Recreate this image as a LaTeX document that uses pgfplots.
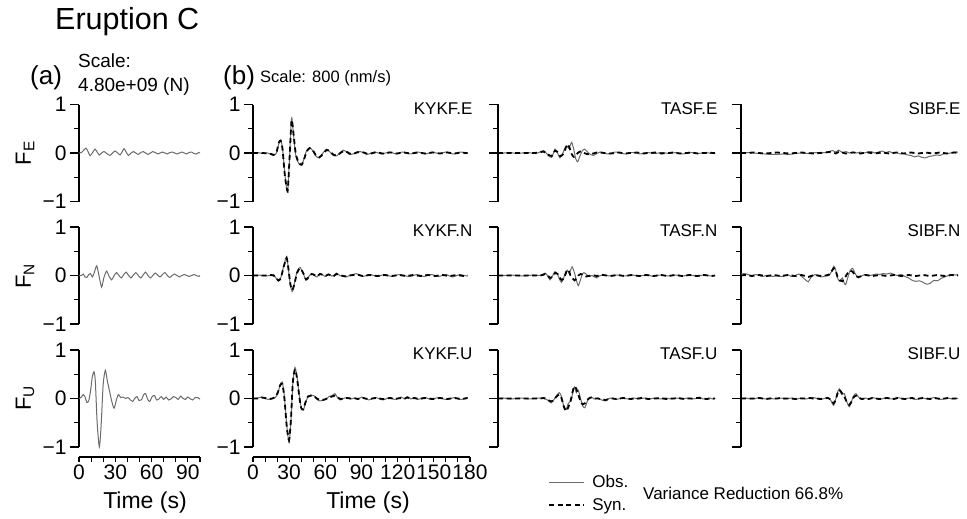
\documentclass[border=0pt]{standalone}
\usepackage{fontspec}
\setmainfont{Liberation Sans}
\usepackage{pgfplots}
\pgfplotsset{compat=1.18}
\definecolor{obsgray}{gray}{0.42}
\newcommand{\fs}[1]{\fontsize{#1}{#1}\selectfont}

\pgfplotsset{
  wave/.style={scale only axis, height=97pt, ymin=-1, ymax=1,
    axis y line=left, axis x line=none, axis line style={-, line width=1.3pt},
    ytick={-1,0,1}, yticklabels={−1,0,1}, minor ytick={-0.5,0.5},
    tick align=outside, major tick length=9pt, minor tick length=5pt,
    tick style={black, line width=1.1pt}, xtick=\empty,
    ticklabel style={font=\fs{21}}, /pgf/number format/assume math mode=true,
    clip=false, anchor=south west},
  force/.style={wave, width=121pt, xmin=0, xmax=100},
  stn/.style={wave, width=217pt, xmin=0, xmax=180},
  nolab/.style={yticklabels={}},
  % detached time axis drawn below a column
  timebar/.style={scale only axis, height=1pt, ymin=0, ymax=1, xmin=0,
    axis y line=none, axis x line=bottom, axis line style={-, line width=1.3pt},
    ytick=\empty, tick align=outside, minor tick length=5pt,
    tick style={black, line width=1.1pt}, major x tick style={draw=none},
    minor xtick={0,10,...,#1}, xmax=#1,
    xticklabel style={font=\fs{21}}, /pgf/number format/assume math mode=true,
    anchor=south west, clip=false},
  obs/.style={obsgray, line width=1pt, smooth, tension=0.4, mark=none},
  syn/.style={black, line width=1.8pt, dash pattern=on 5pt off 3.5pt, smooth, tension=0.4, mark=none},
}
\newcommand{\stlabel}[1]{\node[anchor=base east, font=\fs{17}] at ([xshift=6pt]rel axis cs:1,0.897) {#1};}

\begin{document}
\begin{tikzpicture}
\path[use as bounding box] (0pt,0pt) rectangle (967pt,-519pt);

% headings
\node[anchor=base west, font=\fs{30.5}, inner sep=0pt] at (55pt,-29.5pt) {Eruption C};
\node[anchor=base west, font=\fs{26}, inner sep=0pt] at (30pt,-84.5pt) {(a)};
\node[anchor=base west, font=\fs{19}, inner sep=0pt] at (78pt,-68pt) {Scale:};
\node[anchor=base west, font=\fs{19}, inner sep=0pt] at (78pt,-92pt) {4.80e+09 (N)};
\node[anchor=base west, font=\fs{26}, inner sep=0pt] at (223pt,-84.5pt) {(b)};
\node[anchor=base west, font=\fs{16.5}, inner sep=0pt] at (260pt,-82pt) {Scale: 800 (nm/s)};

% component labels
\node[rotate=90, font=\fs{22}] at (25pt,-153pt) {F\textsubscript{E}};
\node[rotate=90, font=\fs{22}] at (25pt,-276pt) {F\textsubscript{N}};
\node[rotate=90, font=\fs{22}] at (25pt,-398pt) {F\textsubscript{U}};

% time axis titles
\node[anchor=base, font=\fs{23}, inner sep=0pt] at (145pt,-508pt) {Time (s)};
\node[anchor=base, font=\fs{23}, inner sep=0pt] at (368pt,-508pt) {Time (s)};

\node[anchor=west, font=\fs{17}, inner sep=0pt] at (643pt,-493pt) {Variance Reduction 66.8\%};

% time axes
\begin{axis}[timebar=100, width=121pt, at={(79pt,-457pt)}, xtick={0,30,60,90}]
\end{axis}
\begin{axis}[timebar=180, width=217pt, at={(253pt,-457pt)}, xtick={0,30,...,180}]
\end{axis}

% ---------------- (a) single force ----------------
\begin{axis}[force, at={(79pt,-201.5pt)}]
\addplot[obs] table[row sep=\\]{t v\\
0 0\\ 2 0.01\\ 4 0.06\\ 5.8 0.1\\ 7.5 0.03\\ 9.1 -0.055\\ 11 0.0\\ 13.2 0.08\\ 15 0.02\\ 16.8 -0.04\\
18.7 0.0\\ 20.7 0.03\\ 23 -0.01\\ 25.6 -0.05\\ 27.8 0.0\\ 29.8 0.04\\ 32 0.0\\ 34 -0.04\\ 35.8 0.03\\ 37.2 0.09\\
39 0.02\\ 40.8 -0.05\\ 43 0.0\\ 45 0.03\\ 47 0.0\\ 49 -0.03\\ 51 0.01\\ 53 0.03\\ 55 0.0\\ 57 -0.03\\
59 0.0\\ 61 0.03\\ 63 0.01\\ 65 -0.02\\ 67 0.0\\ 69 0.02\\ 71 0.0\\ 73 -0.02\\ 75 0.01\\ 77 0.02\\
79 0.0\\ 81 -0.02\\ 83 0.0\\ 85 0.02\\ 87 0.0\\ 89 -0.02\\ 91 0.01\\ 93 0.02\\ 95 -0.01\\ 97 -0.02\\ 99 0.01\\ 100 0.0\\
};
\end{axis}

\begin{axis}[force, at={(79pt,-324pt)}]
\addplot[obs] table[row sep=\\]{t v\\
0 0\\ 2 0.0\\ 3.5 0.03\\ 5 -0.03\\ 6.5 -0.04\\ 8 0.02\\ 9.5 0.04\\ 11 -0.03\\ 12.5 0.05\\ 14.6 0.2\\
16.5 0.0\\ 18.7 -0.24\\ 20.5 -0.05\\ 22.8 0.09\\ 25 -0.02\\ 27 -0.09\\ 29 0.0\\ 31 0.06\\ 33 0.0\\ 35 -0.05\\
37 0.02\\ 39 0.07\\ 41 0.0\\ 43 -0.05\\ 45 0.01\\ 47 0.06\\ 49 0.0\\ 51 -0.05\\ 53 0.01\\ 55 0.07\\
57 0.0\\ 59 -0.05\\ 61 0.0\\ 63 0.05\\ 65 0.01\\ 67 -0.03\\ 69 0.02\\ 71 0.06\\ 73 0.0\\ 75 -0.04\\
77 0.0\\ 79 0.03\\ 81 0.0\\ 83 -0.03\\ 85 0.0\\ 87 0.02\\ 89 0.0\\ 91 -0.02\\ 93 0.0\\ 95 0.02\\ 97 0.0\\ 99 -0.02\\ 100 0.0\\
};
\end{axis}

\begin{axis}[force, at={(79pt,-447pt)}]
\addplot[obs] table[row sep=\\]{t v\\
0 0\\ 2 0.03\\ 3.5 0.08\\ 5 0.03\\ 6.5 -0.08\\ 8 -0.05\\ 9.5 0.15\\ 11 0.45\\ 12.4 0.55\\ 13.5 0.35\\
15 -0.5\\ 16.8 -1.0\\ 18.3 -0.55\\ 20 0.3\\ 21.8 0.58\\ 23.5 0.35\\ 25 0.18\\ 27 -0.05\\ 29 -0.2\\ 31 -0.02\\
32.5 0.08\\ 34.5 0.02\\ 36.5 0.03\\ 38.5 0.0\\ 40.5 0.02\\ 42.5 -0.03\\ 44.5 -0.06\\ 46 0.0\\ 48 0.04\\ 49.5 -0.04\\
51.5 -0.03\\ 53.5 0.08\\ 55 0.1\\ 57 -0.03\\ 58.5 -0.06\\ 60.5 0.04\\ 62.5 0.06\\ 64 -0.03\\ 66 -0.01\\ 68 0.04\\
70 -0.02\\ 72 0.03\\ 74 -0.03\\ 76 -0.01\\ 78 0.04\\ 80 0.02\\ 82 -0.02\\ 84 0.05\\ 86 0.0\\ 88 -0.02\\
90 0.03\\ 92 -0.01\\ 94 -0.03\\ 96 0.02\\ 98 0.02\\ 100 -0.01\\
};
\end{axis}

% ---------------- (b) KYKF ----------------
\begin{axis}[stn, at={(253pt,-201.5pt)}]
\addplot[obs] table[row sep=\\]{t v\\
0 0\\ 4 0.01\\ 8 -0.01\\ 12 0.0\\ 15 -0.03\\ 17 -0.05\\ 19.5 0.0\\ 21.5 0.2\\ 23 0.27\\ 24.5 0.1\\
26.5 -0.45\\ 28.7 -0.81\\ 30.3 -0.1\\ 32 0.72\\ 33.5 0.4\\ 35.5 -0.05\\ 38 -0.22\\ 40.4 -0.25\\ 42.5 -0.1\\ 44.5 0.05\\
47 0.11\\ 49.5 0.05\\ 52 -0.06\\ 55 -0.1\\ 58 0.0\\ 61 0.08\\ 63.5 0.03\\ 66.5 -0.05\\ 69.4 -0.06\\ 72 0.0\\
75 0.06\\ 77.5 0.02\\ 80 -0.03\\ 83 -0.02\\ 86 0.02\\ 89 0.03\\ 92 0.0\\ 95 -0.03\\ 98 0.0\\ 101 0.02\\
104 0.0\\ 107 -0.02\\ 110 0.0\\ 113 0.02\\ 116 0.0\\ 119 -0.02\\ 122 0.01\\ 125 0.02\\ 128 -0.01\\ 131 -0.02\\
134 0.01\\ 137 0.02\\ 140 0.0\\ 143 -0.02\\ 146 0.0\\ 149 0.02\\ 152 0.0\\ 155 -0.01\\ 158 0.01\\ 161 0.02\\
164 -0.01\\ 167 -0.02\\ 170 0.01\\ 173 0.02\\ 176 0.0\\ 178 -0.01\\
};
\addplot[syn] table[row sep=\\]{t v\\
0 0\\ 4 0.0\\ 8 0.0\\ 12 -0.01\\ 15 -0.02\\ 17 -0.04\\ 19.5 0.02\\ 21.5 0.22\\ 23 0.25\\ 24.5 0.08\\
26.5 -0.48\\ 28.7 -0.78\\ 30.3 -0.12\\ 32 0.68\\ 33.5 0.42\\ 35.5 -0.02\\ 38 -0.2\\ 40.4 -0.24\\ 42.5 -0.12\\ 44.5 0.03\\
47 0.1\\ 49.5 0.06\\ 52 -0.04\\ 55 -0.09\\ 58 -0.02\\ 61 0.06\\ 63.5 0.04\\ 66.5 -0.03\\ 69.4 -0.05\\ 72 -0.01\\
75 0.04\\ 77.5 0.03\\ 80 -0.01\\ 83 -0.02\\ 86 0.01\\ 89 0.02\\ 92 0.01\\ 95 -0.02\\ 98 -0.01\\ 101 0.01\\
104 0.01\\ 107 -0.01\\ 110 -0.01\\ 113 0.01\\ 116 0.01\\ 119 -0.01\\ 122 0.0\\ 125 0.01\\ 128 0.0\\ 131 -0.01\\
134 0.0\\ 137 0.01\\ 140 0.0\\ 143 -0.01\\ 146 0.0\\ 149 0.01\\ 152 0.0\\ 155 -0.01\\ 158 0.0\\ 161 0.01\\
164 0.0\\ 167 -0.01\\ 170 0.0\\ 173 0.01\\ 176 0.0\\ 178 0.0\\
};
\stlabel{KYKF.E}
\end{axis}

\begin{axis}[stn, at={(253pt,-324pt)}]
\addplot[obs] table[row sep=\\]{t v\\
0 0\\ 5 0.01\\ 10 -0.01\\ 14 0.0\\ 17 0.02\\ 19 -0.05\\ 21 -0.12\\ 23 -0.05\\ 25.5 0.2\\ 27.9 0.39\\
29.5 0.1\\ 31 -0.2\\ 32.6 -0.33\\ 34.5 -0.15\\ 36.5 0.08\\ 39 0.17\\ 41.5 0.05\\ 44 -0.1\\ 46 -0.03\\ 48.6 0.04\\
51 0.0\\ 53 -0.03\\ 55.5 0.04\\ 58 0.01\\ 60 -0.02\\ 62.4 0.03\\ 65 -0.01\\ 67 0.0\\ 69.2 0.05\\ 72 0.0\\
75 -0.02\\ 77.5 -0.03\\ 80 0.0\\ 83 0.02\\ 85.8 0.04\\ 88 0.01\\ 91 -0.02\\ 94 0.0\\ 97 0.02\\ 100 0.0\\
103 -0.02\\ 106 0.0\\ 109 0.02\\ 112 0.0\\ 115 -0.02\\ 118 0.0\\ 121 0.02\\ 124 0.01\\ 127 -0.01\\ 130 -0.02\\
133 0.0\\ 136 0.02\\ 139 0.0\\ 142 -0.02\\ 145 0.0\\ 148 0.02\\ 151 0.0\\ 154 -0.02\\ 157 0.0\\ 160 0.02\\
163 -0.01\\ 166 -0.03\\ 169 0.0\\ 172 0.02\\ 175 0.0\\ 178 -0.01\\
};
\addplot[syn] table[row sep=\\]{t v\\
0 0\\ 5 0.0\\ 10 0.0\\ 14 0.01\\ 17 0.0\\ 19 -0.04\\ 21 -0.1\\ 23 -0.06\\ 25.5 0.18\\ 27.9 0.36\\
29.5 0.12\\ 31 -0.18\\ 32.6 -0.3\\ 34.5 -0.16\\ 36.5 0.05\\ 39 0.15\\ 41.5 0.06\\ 44 -0.08\\ 46 -0.04\\ 48.6 0.03\\
51 0.01\\ 53 -0.02\\ 55.5 0.03\\ 58 0.01\\ 60 -0.01\\ 62.4 0.02\\ 65 0.0\\ 67 -0.01\\ 69.2 0.03\\ 72 0.01\\
75 -0.01\\ 77.5 -0.02\\ 80 0.0\\ 83 0.01\\ 85.8 0.02\\ 88 0.01\\ 91 -0.01\\ 94 0.0\\ 97 0.01\\ 100 0.0\\
103 -0.01\\ 106 0.0\\ 109 0.01\\ 112 0.0\\ 115 -0.01\\ 118 0.0\\ 121 0.01\\ 124 0.0\\ 127 -0.01\\ 130 0.0\\
133 0.01\\ 136 0.0\\ 139 -0.01\\ 142 0.0\\ 145 0.01\\ 148 0.0\\ 151 -0.01\\ 154 0.0\\ 157 0.01\\ 160 0.0\\
163 -0.01\\ 166 0.0\\ 169 0.01\\ 172 0.0\\ 175 -0.01\\ 178 0.0\\
};
\stlabel{KYKF.N}
\end{axis}

\begin{axis}[stn, at={(253pt,-447pt)}]
\addplot[obs] table[row sep=\\]{t v\\
0 0\\ 4 0.01\\ 7.2 0.03\\ 10 0.0\\ 13 -0.02\\ 16 0.0\\ 18.5 0.02\\ 20.5 0.1\\ 22.5 0.28\\ 24.3 0.34\\
26 0.05\\ 28 -0.55\\ 29.9 -0.91\\ 31.5 -0.45\\ 33 0.3\\ 34.8 0.64\\ 36.5 0.45\\ 38.5 0.05\\ 40 -0.18\\ 41.7 -0.24\\
43.5 -0.1\\ 45.5 0.03\\ 48 0.07\\ 50.5 0.06\\ 53 -0.02\\ 55.5 -0.05\\ 58 -0.04\\ 60.5 -0.02\\ 63 0.04\\ 65.5 0.06\\
68 0.1\\ 70 0.02\\ 72.5 -0.03\\ 75 0.0\\ 78 0.02\\ 81 -0.01\\ 84 0.01\\ 87 -0.02\\ 90 0.03\\ 93 0.0\\
96 -0.03\\ 99 0.0\\ 102 0.02\\ 105 -0.01\\ 108 -0.03\\ 111 0.0\\ 114 0.02\\ 117 -0.02\\ 120 0.0\\ 123 0.03\\
126 -0.01\\ 128 0.04\\ 131 -0.01\\ 134 0.02\\ 137 -0.02\\ 140 0.01\\ 143 0.02\\ 146 -0.01\\ 149 -0.02\\ 152 0.01\\
155 0.02\\ 158 -0.01\\ 161 -0.02\\ 164 0.0\\ 167 0.02\\ 170 -0.01\\ 173 -0.02\\ 176 0.01\\ 178 0.02\\
};
\addplot[syn] table[row sep=\\]{t v\\
0 0\\ 4 0.0\\ 7.2 0.02\\ 10 0.01\\ 13 -0.01\\ 16 0.0\\ 18.5 0.03\\ 20.5 0.12\\ 22.5 0.27\\ 24.3 0.3\\
26 0.02\\ 28 -0.58\\ 29.9 -0.86\\ 31.5 -0.42\\ 33 0.32\\ 34.8 0.6\\ 36.5 0.42\\ 38.5 0.02\\ 40 -0.2\\ 41.7 -0.22\\
43.5 -0.08\\ 45.5 0.04\\ 48 0.06\\ 50.5 0.05\\ 53 0.0\\ 55.5 -0.03\\ 58 -0.03\\ 60.5 -0.01\\ 63 0.02\\ 65.5 0.04\\
68 0.06\\ 70 0.03\\ 72.5 -0.01\\ 75 0.0\\ 78 0.01\\ 81 0.0\\ 84 0.01\\ 87 -0.01\\ 90 0.02\\ 93 0.0\\
96 -0.01\\ 99 0.0\\ 102 0.01\\ 105 0.0\\ 108 -0.01\\ 111 0.0\\ 114 0.01\\ 117 -0.01\\ 120 0.0\\ 123 0.01\\
126 0.0\\ 128 0.02\\ 131 0.0\\ 134 0.01\\ 137 -0.01\\ 140 0.0\\ 143 0.01\\ 146 0.0\\ 149 -0.01\\ 152 0.0\\
155 0.01\\ 158 0.0\\ 161 -0.01\\ 164 0.0\\ 167 0.01\\ 170 0.0\\ 173 -0.01\\ 176 0.0\\ 178 0.01\\
};
\stlabel{KYKF.U}
\end{axis}

% ---------------- TASF ----------------
\begin{axis}[stn, nolab, at={(498pt,-201.5pt)}]
\addplot[obs] table[row sep=\\]{t v\\
0 0\\ 5 0.0\\ 10 0.01\\ 15 -0.01\\ 20 0.0\\ 25 0.01\\ 30 -0.01\\ 34 0.01\\ 37.6 0.05\\ 40 0.0\\
42 -0.06\\ 44.5 -0.09\\ 46 0.0\\ 47.3 0.08\\ 49 0.02\\ 51.4 -0.1\\ 53.5 -0.02\\ 55.5 0.1\\ 57 0.15\\ 58.5 0.1\\
59.8 0.15\\ 61.1 0.22\\ 62.8 0.08\\ 64.5 -0.12\\ 66.1 -0.18\\ 68 -0.06\\ 70 0.05\\ 71.6 0.08\\ 73.5 0.04\\ 76 -0.02\\
79 -0.05\\ 82 -0.01\\ 85 0.02\\ 88 0.0\\ 91 -0.02\\ 94 0.0\\ 97 0.02\\ 100 0.01\\ 103 -0.01\\ 106 -0.02\\
109 0.0\\ 112 0.01\\ 115 0.0\\ 118 -0.02\\ 121 0.0\\ 124 0.01\\ 127 0.0\\ 130 -0.01\\ 133 0.0\\ 136 0.01\\
139 0.0\\ 142 -0.01\\ 145 0.0\\ 148 0.01\\ 151 -0.01\\ 154 -0.02\\ 157 0.0\\ 160 0.01\\ 163 0.0\\ 166 -0.01\\
169 0.0\\ 172 0.01\\ 175 0.0\\ 178 -0.01\\ 180 0.0\\
};
\addplot[syn] table[row sep=\\]{t v\\
0 0\\ 5 0.0\\ 10 0.0\\ 15 0.0\\ 20 0.0\\ 25 0.0\\ 30 0.0\\ 34 0.01\\ 37.6 0.03\\ 40 0.0\\
42 -0.04\\ 44.5 -0.06\\ 46 -0.01\\ 47.3 0.05\\ 49 0.03\\ 51.4 -0.06\\ 53.5 -0.04\\ 55.5 0.06\\ 57.5 0.18\\ 59.5 0.1\\
61.1 -0.02\\ 62.8 -0.08\\ 64.5 -0.06\\ 66.1 0.0\\ 68 0.03\\ 70 0.02\\ 71.6 0.0\\ 73.5 -0.02\\ 76 -0.03\\ 79 -0.01\\
82 0.01\\ 85 0.01\\ 88 0.0\\ 91 -0.01\\ 94 -0.01\\ 97 0.0\\ 100 0.01\\ 103 0.0\\ 106 -0.01\\ 109 0.0\\
112 0.0\\ 115 0.01\\ 118 0.0\\ 121 -0.01\\ 124 0.0\\ 127 0.0\\ 130 0.01\\ 133 0.0\\ 136 -0.01\\ 139 0.0\\
142 0.0\\ 145 0.01\\ 148 0.0\\ 151 -0.01\\ 154 0.0\\ 157 0.0\\ 160 0.01\\ 163 0.0\\ 166 -0.01\\ 169 0.0\\
172 0.0\\ 175 0.01\\ 178 0.0\\ 180 0.0\\
};
\stlabel{TASF.E}
\end{axis}

\begin{axis}[stn, nolab, at={(498pt,-324pt)}]
\addplot[obs] table[row sep=\\]{t v\\
0 0\\ 5 0.0\\ 10 0.01\\ 15 0.0\\ 20 -0.01\\ 25 0.0\\ 30 0.01\\ 35 0.0\\ 37 0.02\\ 39 0.05\\
41 0.0\\ 43.1 -0.09\\ 45 -0.02\\ 47.3 0.08\\ 49.5 0.02\\ 51 -0.08\\ 52.8 -0.14\\ 54.5 -0.05\\ 56 0.06\\ 57.5 0.11\\
59 0.05\\ 60.1 0.1\\ 61.5 0.18\\ 63.5 0.05\\ 65 -0.1\\ 66.6 -0.21\\ 68.5 -0.08\\ 70 0.03\\ 71.3 0.06\\ 73 0.03\\
75.5 -0.02\\ 78 0.0\\ 80 -0.03\\ 81.8 -0.05\\ 84 -0.01\\ 87 0.01\\ 90 0.0\\ 93 -0.01\\ 96 0.0\\ 99 0.01\\
102 0.0\\ 105 -0.01\\ 108 0.0\\ 111 0.01\\ 114 0.0\\ 117 -0.01\\ 120 0.0\\ 123 0.01\\ 126 0.0\\ 129 -0.02\\
132 0.0\\ 135 0.01\\ 138 0.0\\ 141 -0.01\\ 144 0.0\\ 147 0.01\\ 150 0.0\\ 153 -0.01\\ 156 0.0\\ 159 0.01\\
162 0.0\\ 165 -0.02\\ 168 0.0\\ 171 0.01\\ 174 0.0\\ 177 -0.01\\ 180 0.0\\
};
\addplot[syn] table[row sep=\\]{t v\\
0 0\\ 5 0.0\\ 10 0.0\\ 15 0.0\\ 20 0.0\\ 25 0.0\\ 30 0.0\\ 35 0.0\\ 37 0.01\\ 39 0.03\\
41 0.01\\ 43.1 -0.05\\ 45 -0.03\\ 47.3 0.05\\ 49.5 0.03\\ 51 -0.04\\ 52.8 -0.09\\ 54.5 -0.06\\ 56 0.03\\ 57.5 0.12\\
59 0.08\\ 60.1 0.0\\ 61.5 -0.05\\ 63.5 -0.1\\ 65 -0.06\\ 66.6 0.0\\ 68.5 0.03\\ 70 0.02\\ 71.3 0.0\\ 73 -0.02\\
75.5 -0.01\\ 78 0.01\\ 80 0.0\\ 81.8 -0.01\\ 84 0.0\\ 87 0.01\\ 90 0.0\\ 93 -0.01\\ 96 0.0\\ 99 0.01\\
102 0.0\\ 105 -0.01\\ 108 0.0\\ 111 0.01\\ 114 0.0\\ 117 -0.01\\ 120 0.0\\ 123 0.01\\ 126 0.0\\ 129 -0.01\\
132 0.0\\ 135 0.01\\ 138 0.0\\ 141 -0.01\\ 144 0.0\\ 147 0.01\\ 150 0.0\\ 153 -0.01\\ 156 0.0\\ 159 0.01\\
162 0.0\\ 165 -0.01\\ 168 0.0\\ 171 0.01\\ 174 0.0\\ 177 -0.01\\ 180 0.0\\
};
\stlabel{TASF.N}
\end{axis}

\begin{axis}[stn, nolab, at={(498pt,-447pt)},
  legend style={at={(0.232,-0.27)}, anchor=north west, draw=none, fill=none,
    font=\fs{17}, inner sep=0pt, row sep=5pt, cells={anchor=west},
    nodes={inner xsep=7pt}},
  legend image code/.code={\draw[#1] (0pt,0pt) -- (35pt,0pt);}]
\addplot[obs] table[row sep=\\]{t v\\
0 0\\ 5 0.01\\ 10 -0.01\\ 15 0.0\\ 20 0.01\\ 25 -0.01\\ 30 0.0\\ 35 0.01\\ 38 0.0\\ 41 -0.03\\
44 -0.09\\ 46.5 -0.02\\ 48.5 0.06\\ 50.8 0.12\\ 52.5 0.05\\ 54.5 -0.15\\ 56.4 -0.23\\ 58.3 -0.1\\ 60.5 -0.05\\ 62 0.12\\
63.3 0.24\\ 65 0.12\\ 66.6 0.17\\ 68.5 0.0\\ 70.2 -0.15\\ 72.1 -0.19\\ 74 -0.06\\ 76 0.02\\ 77.5 0.03\\ 80 -0.01\\
83 0.01\\ 86 -0.03\\ 89.5 -0.05\\ 92 0.0\\ 95 0.01\\ 98 -0.02\\ 101 0.0\\ 104 0.01\\ 107 -0.01\\ 110 0.0\\
113 0.01\\ 116 -0.01\\ 119 0.0\\ 122 0.01\\ 125 -0.01\\ 128 0.0\\ 131 0.01\\ 134 -0.01\\ 137 0.0\\ 140 0.01\\
143 -0.01\\ 146 0.0\\ 149 0.01\\ 152 -0.01\\ 155 0.0\\ 158 0.01\\ 161 -0.01\\ 164 0.0\\ 167 0.03\\ 170 -0.01\\
173 0.0\\ 176 0.01\\ 178 -0.01\\ 180 0.0\\
};
\addlegendentry{Obs.}
\addplot[syn] table[row sep=\\]{t v\\
0 0\\ 5 0.0\\ 10 0.0\\ 15 0.0\\ 20 0.0\\ 25 0.0\\ 30 0.0\\ 35 0.0\\ 38 0.01\\ 41 -0.02\\
44 -0.06\\ 46.5 -0.03\\ 48.5 0.04\\ 50.8 0.08\\ 52.5 0.02\\ 54.5 -0.16\\ 56.4 -0.26\\ 58.3 -0.18\\ 60.5 -0.02\\ 62 0.15\\
63.3 0.25\\ 65 0.2\\ 66.6 0.08\\ 68.5 -0.06\\ 70.2 -0.12\\ 72.1 -0.1\\ 74 -0.03\\ 76 0.01\\ 77.5 0.02\\ 80 0.0\\
83 0.0\\ 86 -0.02\\ 89.5 -0.03\\ 92 -0.01\\ 95 0.0\\ 98 -0.01\\ 101 0.0\\ 104 0.01\\ 107 0.0\\ 110 -0.01\\
113 0.0\\ 116 0.0\\ 119 0.01\\ 122 0.0\\ 125 -0.01\\ 128 0.0\\ 131 0.0\\ 134 0.01\\ 137 0.0\\ 140 -0.01\\
143 0.0\\ 146 0.0\\ 149 0.01\\ 152 0.0\\ 155 -0.01\\ 158 0.0\\ 161 0.0\\ 164 0.01\\ 167 0.01\\ 170 0.0\\
173 -0.01\\ 176 0.0\\ 178 0.0\\ 180 0.0\\
};
\addlegendentry{Syn.}
\stlabel{TASF.U}
\end{axis}

% ---------------- SIBF ----------------
\begin{axis}[stn, nolab, at={(741pt,-201.5pt)}]
\addplot[obs] table[row sep=\\]{t v\\
0 0\\ 5 0.01\\ 10 0.0\\ 15 -0.01\\ 20 -0.02\\ 25 -0.03\\ 30 -0.03\\ 35 -0.02\\ 40 -0.03\\ 45 -0.01\\
50 0.0\\ 55 -0.01\\ 60 0.01\\ 65 0.0\\ 70 0.01\\ 73 0.03\\ 76 0.05\\ 78.5 0.02\\ 81 0.06\\ 84 0.01\\
87 0.03\\ 90 0.0\\ 93 0.02\\ 96 0.0\\ 99 0.02\\ 102 0.0\\ 105 0.02\\ 108 0.03\\ 111 0.0\\ 114 0.02\\
117 0.04\\ 120 0.01\\ 123 0.03\\ 126 0.0\\ 129 0.01\\ 132 -0.02\\ 135 -0.01\\ 138 -0.04\\ 141 -0.05\\ 144 -0.08\\
147 -0.06\\ 150 -0.09\\ 153 -0.1\\ 156 -0.07\\ 159 -0.06\\ 162 -0.04\\ 165 -0.05\\ 168 -0.02\\ 171 -0.01\\ 174 0.0\\
177 0.02\\ 180 0.02\\
};
\addplot[syn] table[row sep=\\]{t v\\
0 0\\ 5 0.0\\ 10 0.01\\ 15 0.0\\ 20 -0.01\\ 25 0.0\\ 30 0.01\\ 35 0.0\\ 40 -0.01\\ 45 0.0\\
50 0.01\\ 55 0.0\\ 60 -0.01\\ 65 0.0\\ 70 0.01\\ 73 0.02\\ 76 0.01\\ 78.5 -0.01\\ 81 0.02\\ 84 0.01\\
87 -0.01\\ 90 0.0\\ 93 0.01\\ 96 0.0\\ 99 -0.01\\ 102 0.0\\ 105 0.01\\ 108 0.0\\ 111 -0.01\\ 114 0.0\\
117 0.01\\ 120 0.0\\ 123 -0.01\\ 126 0.0\\ 129 0.01\\ 132 0.0\\ 135 -0.01\\ 138 0.0\\ 141 0.01\\ 144 0.0\\
147 -0.01\\ 150 0.0\\ 153 0.01\\ 156 0.0\\ 159 -0.01\\ 162 0.0\\ 165 0.01\\ 168 0.0\\ 171 -0.01\\ 174 0.0\\
177 0.01\\ 180 0.0\\
};
\stlabel{SIBF.E}
\end{axis}

\begin{axis}[stn, nolab, at={(741pt,-324pt)}]
\addplot[obs] table[row sep=\\]{t v\\
0 0.03\\ 3 0.04\\ 6 0.02\\ 9 0.0\\ 12 0.02\\ 15 0.0\\ 18 -0.02\\ 21 0.0\\ 24 -0.01\\ 27 -0.02\\
30 0.0\\ 33 -0.02\\ 36 -0.01\\ 39 0.01\\ 42 -0.02\\ 45 0.0\\ 48 0.03\\ 50.5 -0.02\\ 53 -0.08\\ 55.8 -0.13\\
58 -0.04\\ 61.3 0.02\\ 64 -0.01\\ 67 -0.03\\ 70 -0.01\\ 73 0.0\\ 75 0.08\\ 77 0.19\\ 78.5 0.12\\ 80 -0.05\\
82 -0.12\\ 84 -0.05\\ 85.5 -0.15\\ 86.8 -0.19\\ 88.5 -0.05\\ 90.5 0.1\\ 92.6 0.15\\ 94.5 0.05\\ 97.3 -0.05\\ 100 -0.01\\
103 0.02\\ 106 0.0\\ 109 0.01\\ 112 0.03\\ 115 0.02\\ 118 0.04\\ 121 0.03\\ 124 0.05\\ 127 0.02\\ 130 0.0\\
133 0.02\\ 136 -0.02\\ 139 -0.05\\ 142 -0.1\\ 145 -0.12\\ 148 -0.11\\ 151 -0.14\\ 154 -0.18\\ 157 -0.16\\ 160 -0.1\\
163 -0.11\\ 166 -0.06\\ 169 -0.03\\ 172 0.0\\ 175 0.02\\ 178 0.01\\ 180 0.02\\
};
\addplot[syn] table[row sep=\\]{t v\\
0 0.0\\ 3 0.01\\ 6 0.0\\ 9 -0.01\\ 12 0.0\\ 15 0.01\\ 18 0.0\\ 21 -0.01\\ 24 0.0\\ 27 0.01\\
30 0.0\\ 33 -0.01\\ 36 0.0\\ 39 0.01\\ 42 0.0\\ 45 -0.01\\ 48 0.0\\ 50.5 0.01\\ 53 -0.01\\ 55.8 -0.03\\
58 -0.01\\ 61.3 0.01\\ 64 0.0\\ 67 -0.01\\ 70 0.0\\ 73 0.02\\ 75 0.08\\ 77 0.15\\ 78.5 0.1\\ 80 -0.02\\
82 -0.1\\ 84 -0.12\\ 85.5 -0.08\\ 86.8 -0.02\\ 88.5 0.05\\ 90.5 0.1\\ 92.6 0.08\\ 94.5 0.0\\ 97.3 -0.03\\ 100 -0.01\\
103 0.01\\ 106 0.0\\ 109 -0.01\\ 112 0.0\\ 115 0.01\\ 118 0.0\\ 121 -0.01\\ 124 0.0\\ 127 0.01\\ 130 0.0\\
133 -0.01\\ 136 0.0\\ 139 0.01\\ 142 0.0\\ 145 -0.01\\ 148 0.0\\ 151 0.01\\ 154 0.0\\ 157 -0.01\\ 160 0.0\\
163 0.01\\ 166 0.0\\ 169 -0.01\\ 172 0.0\\ 175 0.01\\ 178 0.0\\ 180 0.0\\
};
\stlabel{SIBF.N}
\end{axis}

\begin{axis}[stn, nolab, at={(741pt,-447pt)}]
\addplot[obs] table[row sep=\\]{t v\\
0 0\\ 4 0.01\\ 8 -0.01\\ 12 0.0\\ 15 0.02\\ 18 0.0\\ 21 -0.01\\ 24 0.01\\ 27 -0.01\\ 30 0.0\\
33 0.01\\ 36 -0.01\\ 39 0.0\\ 42 0.01\\ 45 -0.02\\ 48 0.0\\ 51 0.01\\ 54 -0.01\\ 57 0.01\\ 60 0.02\\
63 0.0\\ 66 -0.02\\ 69 0.0\\ 72 0.02\\ 74.5 -0.04\\ 76.8 -0.14\\ 78.5 -0.02\\ 80 0.12\\ 81.5 0.2\\ 83.5 0.08\\
85.7 0.1\\ 87.5 -0.05\\ 89.8 -0.17\\ 91.8 -0.05\\ 93.5 0.06\\ 95.4 0.1\\ 97.5 0.03\\ 100 -0.02\\ 103 0.01\\ 106 -0.01\\
109 0.02\\ 112 0.0\\ 115 -0.02\\ 118 0.0\\ 121 0.01\\ 124 -0.01\\ 127 0.0\\ 130 0.02\\ 133 0.0\\ 136 -0.01\\
139 0.01\\ 142 0.0\\ 145 -0.02\\ 148 0.0\\ 151 0.01\\ 154 -0.01\\ 157 0.0\\ 160 0.02\\ 163 0.0\\ 166 -0.02\\
169 0.0\\ 172 0.01\\ 175 -0.01\\ 178 0.0\\ 180 0.0\\
};
\addplot[syn] table[row sep=\\]{t v\\
0 0\\ 4 0.0\\ 8 0.0\\ 12 0.0\\ 15 0.01\\ 18 0.0\\ 21 -0.01\\ 24 0.0\\ 27 0.0\\ 30 0.0\\
33 0.01\\ 36 0.0\\ 39 0.0\\ 42 0.0\\ 45 -0.01\\ 48 0.0\\ 51 0.0\\ 54 0.0\\ 57 0.01\\ 60 0.0\\
63 0.0\\ 66 -0.01\\ 69 0.0\\ 72 0.01\\ 74.5 -0.02\\ 76.8 -0.1\\ 78.5 -0.03\\ 80 0.1\\ 81.5 0.18\\ 83.5 0.12\\
85.7 0.04\\ 87.5 -0.06\\ 89.8 -0.13\\ 91.8 -0.06\\ 93.5 0.03\\ 95.4 0.06\\ 97.5 0.02\\ 100 -0.01\\ 103 0.0\\ 106 -0.01\\
109 0.01\\ 112 0.0\\ 115 -0.01\\ 118 0.0\\ 121 0.01\\ 124 0.0\\ 127 -0.01\\ 130 0.01\\ 133 0.0\\ 136 -0.01\\
139 0.0\\ 142 0.01\\ 145 -0.01\\ 148 0.0\\ 151 0.01\\ 154 0.0\\ 157 -0.01\\ 160 0.01\\ 163 0.0\\ 166 -0.01\\
169 0.0\\ 172 0.01\\ 175 0.0\\ 178 0.0\\ 180 0.0\\
};
\stlabel{SIBF.U}
\end{axis}
\end{tikzpicture}
\end{document}
